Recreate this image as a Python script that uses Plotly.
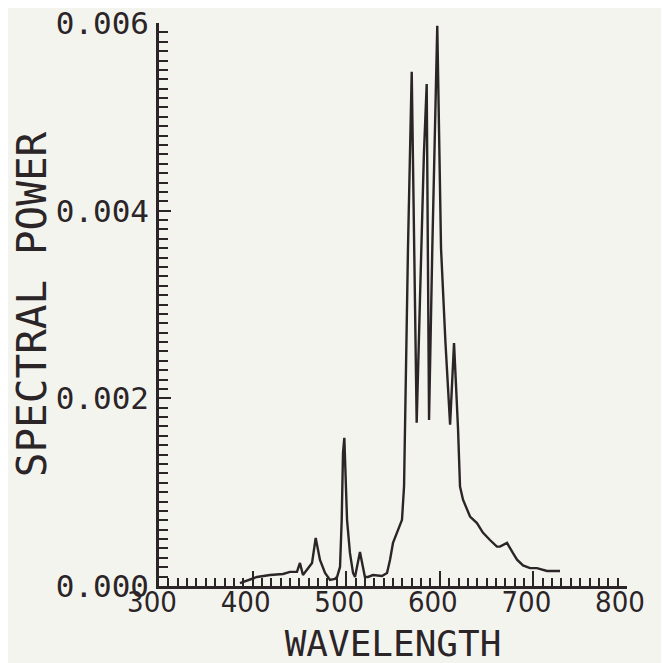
import plotly.graph_objects as go

# Wavelength (nm) and spectral power
wavelength = [386.5, 397, 404.7, 418.6, 432.5, 440, 447.4, 450.6, 453.8, 463.5,
              467.4, 472, 477.4, 482.7, 488, 490.2, 493.4, 495.2, 496.6, 498,
              500.9, 504, 507.3, 509.4, 514.7, 520, 523.3, 528.6, 538.2, 543.6,
              546.8, 550, 559.6, 561.8, 562.8, 566, 570, 572.4, 575.3, 578.8,
              583, 586, 587.4, 588.5, 592, 597.3, 601.3, 606, 611, 615.2,
              619.5, 621.6, 624.8, 632.3, 639.7, 646, 653.6, 661, 664.3, 671.8,
              678.2, 682.5, 688.9, 696.4, 703.8, 714.5, 728.4]
power = [0.00003, 0.000064, 0.000096, 0.000117, 0.000128, 0.00015, 0.00015, 0.000246, 0.000117, 0.000246,
         0.000512, 0.000278, 0.000139, 0.000064, 0.000075, 0.000096, 0.000203, 0.000705, 0.00142, 0.00158,
         0.000705, 0.000352, 0.000139, 0.000096, 0.000363, 0.000096, 0.000096, 0.000117, 0.000107, 0.000139,
         0.000278, 0.000459, 0.000705, 0.00106, 0.00177, 0.0036, 0.00548, 0.0036, 0.00174, 0.00305,
         0.0046, 0.00535, 0.0036, 0.00177, 0.0036, 0.00597, 0.0036, 0.0026, 0.00172, 0.00259,
         0.00167, 0.00106, 0.00092, 0.00074, 0.00067, 0.00057, 0.00049, 0.00042, 0.00042, 0.00046,
         0.00035, 0.00028, 0.00022, 0.00019, 0.00019, 0.00016, 0.00016]

x_tickvals = [300, 400, 500, 600, 700, 800]
x_ticktext = ["300", "400", "500", "600", "700", "800"]
y_tickvals = [0.0, 0.002, 0.004, 0.006]
y_ticktext = ["0.000", "0.002", "0.004", "0.006"]

INK = "#2b2527"
BG = "#f4f4ef"
MONO = "DejaVu Sans Mono"
NARROW = "Liberation Sans Narrow, DejaVu Sans Condensed, DejaVu Sans Mono"

fig = go.Figure()
fig.add_trace(go.Scatter(x=wavelength, y=power, mode="lines",
                         line=dict(color=INK, width=2.4), showlegend=False,
                         hoverinfo="x+y"))

# page body adds an 8px offset, so the figure is offset accordingly
fig.update_layout(
    width=661, height=663,
    margin=dict(l=151, r=42, t=15, b=85),
    paper_bgcolor=BG, plot_bgcolor=BG,
    font=dict(family=MONO, color=INK),
    xaxis=dict(
        range=[300, 800], showgrid=False, zeroline=False, automargin=False,
        showline=True, linecolor=INK, linewidth=2.5,
        tickmode="array", tickvals=x_tickvals, ticktext=x_ticktext,
        ticks="inside", ticklen=15, tickwidth=2, tickcolor=INK,
        minor=dict(ticks="inside", dtick=10, ticklen=8, tickwidth=2, tickcolor=INK),
        tickfont=dict(family=NARROW, size=29, color=INK),
        ticklabelshift=-7, ticklabelstandoff=-12, ticklabeloverflow="allow",
        title=dict(text="WAVELENGTH", font=dict(family=MONO, size=36, color=INK), standoff=14),
    ),
    yaxis=dict(
        range=[0, 0.006], showgrid=False, zeroline=False, automargin=False,
        showline=True, linecolor=INK, linewidth=2.5,
        tickmode="array", tickvals=y_tickvals, ticktext=y_ticktext,
        ticks="inside", ticklen=12, tickwidth=2, tickcolor=INK,
        minor=dict(ticks="inside", dtick=0.0001, ticklen=9, tickwidth=2, tickcolor=INK),
        tickfont=dict(family=MONO, size=31, color=INK),
        ticklabelstandoff=1, ticklabeloverflow="allow",
        title=dict(text="SPECTRAL POWER", font=dict(family=MONO, size=41, color=INK), standoff=6),
    ),
)

fig.write_html("out.html")
